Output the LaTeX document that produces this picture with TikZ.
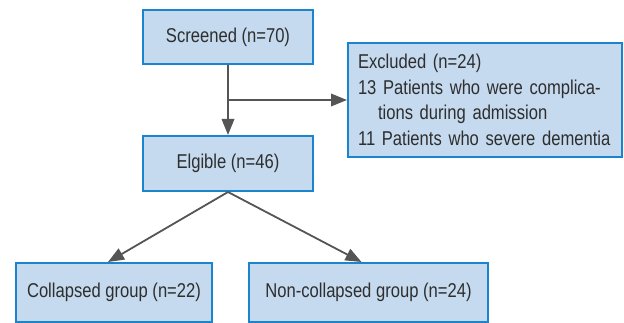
\documentclass[tikz,border=0pt]{standalone}
\usepackage{fontspec}
\setmainfont{Liberation Sans}[FakeStretch=0.83]
\usetikzlibrary{arrows.meta}
\definecolor{boxfill}{HTML}{C5DAEE}
\definecolor{boxline}{HTML}{1A85CC}
\definecolor{arrowc}{HTML}{555555}
\definecolor{txt}{HTML}{2E2E2E}
\tikzset{
  box/.style={draw=boxline, line width=2pt, fill=boxfill, text=txt, inner sep=0pt,
    font=\fontsize{20}{25.5}\selectfont},
  conn/.style={draw=arrowc, line width=1.8pt, -{Triangle[length=16pt,width=12.5pt]}},
  plain/.style={draw=arrowc, line width=1.8pt}
}
\begin{document}
\begin{tikzpicture}[x=1pt,y=-1pt]
\useasboundingbox (0,0) rectangle (624,323);
\node[box, minimum width=170pt, minimum height=54pt] (scr) at (228,37) {Screened (n=70)};
\node[box, minimum width=274pt, minimum height=114pt, align=left, text width=254pt] (exc) at (485,100)
  {Excluded (n=24)\\13 Patients who were complica-\\\hspace*{20pt}tions during admission\\11 Patients who severe dementia};
\node[box, minimum width=170pt, minimum height=55pt] (elg) at (228,163.5) {Elgible (n=46)};
\node[box, minimum width=196pt, minimum height=59pt] (col) at (114,292.5) {Collapsed group (n=22)};
\node[box, minimum width=239pt, minimum height=59pt] (non) at (368.5,292.5) {Non-collapsed group (n=24)};
\coordinate (br) at (scr.south |- exc.west);
\draw[conn] (scr.south) -- (elg.north);
\draw[conn] (br) -- (exc.west);
\draw[conn] (elg.south) -- ([xshift=-6pt]col.north);
\draw[conn] (elg.south) -- ([xshift=-7pt]non.north);
\end{tikzpicture}
\end{document}
